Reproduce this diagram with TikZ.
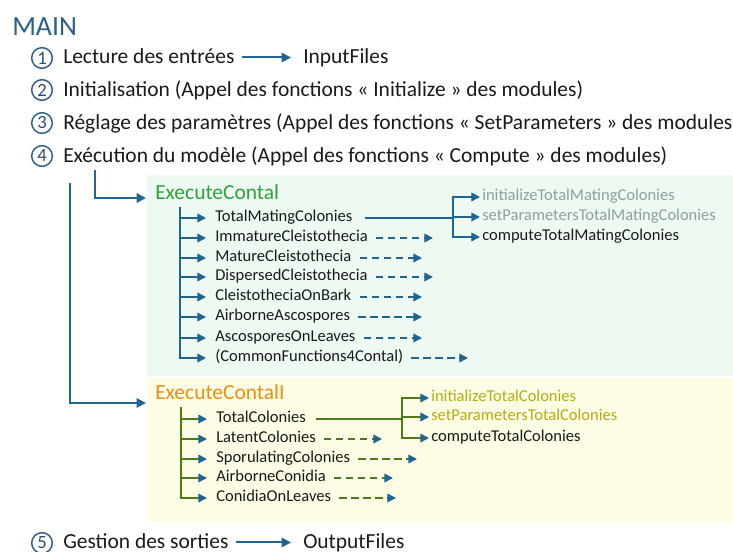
\documentclass[tikz,border=0pt]{standalone}
\usepackage{fontspec}
\setmainfont{Carlito}
\usetikzlibrary{arrows.meta,calc}
\definecolor{greenbg}{HTML}{EEF9F2}
\definecolor{yellowbg}{HTML}{FDFCE4}
\definecolor{arrowblue}{HTML}{1F6592}
\definecolor{mainblue}{HTML}{2E5E8A}
\definecolor{numblue}{HTML}{2D4D6C}
\definecolor{contalgreen}{HTML}{2EA33B}
\definecolor{contalorange}{HTML}{EE8E10}
\definecolor{olive}{HTML}{4D7A1B}
\definecolor{graytxt}{HTML}{8DA0A0}
\definecolor{olivetxt}{HTML}{B4AE12}
\definecolor{darktxt}{HTML}{1A1A1A}
\tikzset{
  item/.style={anchor=base west, inner sep=0pt, text=darktxt, font=\fontsize{16.1}{18}\selectfont},
  num/.style={circle, draw=mainblue, line width=1.1pt, minimum size=15.5pt, inner sep=0pt, text=numblue, font=\fontsize{14}{14}\selectfont},
  head/.style={anchor=base west, inner sep=0pt, font=\fontsize{16.1}{18}\selectfont},
  tlab/.style={anchor=base west, inner sep=0pt, text=darktxt, font=\fontsize{12.4}{14}\selectfont},
  bigarr/.style={-{Triangle[length=7pt,width=7pt]}, line width=1.5pt, draw=arrowblue},
  barr/.style={-{Triangle[length=6.5pt,width=6.5pt]}, line width=1.2pt, draw=arrowblue},
  bdash/.style={barr, dash pattern=on 5.5pt off 3.5pt},
  garr/.style={-{Triangle[length=6.5pt,width=6.5pt,color=arrowblue]}, line width=1.2pt, draw=olive},
  gdash/.style={garr, dash pattern=on 5.5pt off 3.5pt},
}
\begin{document}
\begin{tikzpicture}[x=0.75pt,y=-0.75pt]
\useasboundingbox (0,0) rectangle (733,552);
\fill[greenbg] (147,175) rectangle (733,376);
\fill[yellowbg] (147,378) rectangle (733,522);

% MAIN
\node[anchor=base west, inner sep=0pt, text=mainblue, font=\fontsize{20.8}{24}\selectfont] (main) at (12,36) {MAIN};

% items
\node[num] (n1) at (42,58) {1};
\node[item] (l1) at (63,64) {Lecture des entrées};
\node[item] (inp) at (303,64) {InputFiles};
\draw[bigarr] ($(l1.base east)+(7,-6.5)$) -- ($(inp.base west)+(-12,-6.5)$);

\node[num] (n2) at (42,90) {2};
\node[item] (l2) at (63,97) {Initialisation (Appel des fonctions « Initialize » des modules)};

\node[num] (n3) at (42,123) {3};
\node[item] (l3) at (63,130) {Réglage des paramètres (Appel des fonctions « SetParameters » des modules)};

\node[num] (n4) at (42,156) {4};
\node[item] (l4) at (63,163) {Exécution du modèle (Appel des fonctions « Compute » des modules)};

% ExecuteContal
\node[head, text=contalgreen] (ec) at (155,200) {ExecuteContal};
\coordinate (d1) at (95,170);
\draw[bigarr] (d1) |- ($(ec.base west)+(-9,-2)$);

\coordinate (ctop) at (180,207);
\foreach \n/\txt/\y in {1/TotalMatingColonies/222,
  2/ImmatureCleistothecia/242,
  3/MatureCleistothecia/262,
  4/DispersedCleistothecia/281,
  5/CleistotheciaOnBark/301,
  6/AirborneAscospores/321,
  7/AscosporesOnLeaves/342,
  8/(CommonFunctions4Contal)/362}{
  \node[tlab] (c\n) at (215,\y) {\txt};
  \coordinate (cb\n) at ($(c\n.base west)+(-9,-4)$);
}
\draw[barr] (ctop) |- (cb8);
\foreach \n in {1,...,7}{\draw[barr] (ctop |- cb\n) -- (cb\n);}
\foreach \n/\ex in {2/433,3/422,4/433,5/422,6/422,7/422,8/468}{
  \coordinate (ce\n) at (\ex,0);
  \draw[bdash] ($(c\n.base east)+(8,-4)$) -- (ce\n |- cb\n);
}
% sub-functions TotalMatingColonies
\node[tlab, text=graytxt] (s1) at (482,201) {initializeTotalMatingColonies};
\node[tlab, text=graytxt] (s2) at (482,221) {setParametersTotalMatingColonies};
\node[tlab] (s3) at (482,241) {computeTotalMatingColonies};
\foreach \n in {1,2,3}{\coordinate (sb\n) at ($(s\n.base west)+(-2,-4)$);}
\coordinate (sx) at (453,0);
\draw[line width=1.2pt, draw=arrowblue] ($(c1.base east)+(12,-4)$) -- (sx |- cb1);
\draw[barr] (sx |- sb2) |- (sb1);
\draw[barr] (sx |- sb2) |- (sb3);
\draw[barr] (sx |- sb2) -- (sb2);

% ExecuteContalI
\node[head, text=contalorange] (eci) at (155,400) {ExecuteContalI};
\coordinate (d2) at (70,183);
\draw[bigarr] (d2) |- ($(eci.base west)+(-9,3)$);

\coordinate (itop) at (181,407);
\foreach \n/\txt/\y in {1/TotalColonies/423,
  2/LatentColonies/443,
  3/SporulatingColonies/463,
  4/AirborneConidia/482,
  5/ConidiaOnLeaves/502}{
  \node[tlab] (k\n) at (216,\y) {\txt};
  \coordinate (kb\n) at ($(k\n.base west)+(-9,-4)$);
}
\draw[garr] (itop) |- (kb5);
\foreach \n in {1,...,4}{\draw[garr] (itop |- kb\n) -- (kb\n);}
\foreach \n/\ex in {2/382,3/417,4/393,5/396}{
  \coordinate (ke\n) at (\ex,0);
  \draw[gdash] ($(k\n.base east)+(8,-4)$) -- (ke\n |- kb\n);
}
\node[tlab, text=olivetxt] (u1) at (431,402) {initializeTotalColonies};
\node[tlab, text=olivetxt] (u2) at (431,421) {setParametersTotalColonies};
\node[tlab] (u3) at (431,442) {computeTotalColonies};
\foreach \n in {1,2,3}{\coordinate (ub\n) at ($(u\n.base west)+(-2,-4)$);}
\coordinate (ux) at (402,0);
\draw[line width=1.2pt, draw=olive] ($(k1.base east)+(10,-4)$) -- (ux |- kb1);
\draw[garr] (ux |- ub2) |- (ub1);
\draw[garr] (ux |- ub2) |- (ub3);
\draw[garr] (ux |- ub2) -- (ub2);

% item 5
\node[num] (n5) at (42,543) {5};
\node[item] (l5) at (63,549) {Gestion des sorties};
\node[item] (outp) at (303,549) {OutputFiles};
\draw[bigarr] ($(l5.base east)+(7,-6.5)$) -- ($(outp.base west)+(-12,-6.5)$);
\end{tikzpicture}
\end{document}
